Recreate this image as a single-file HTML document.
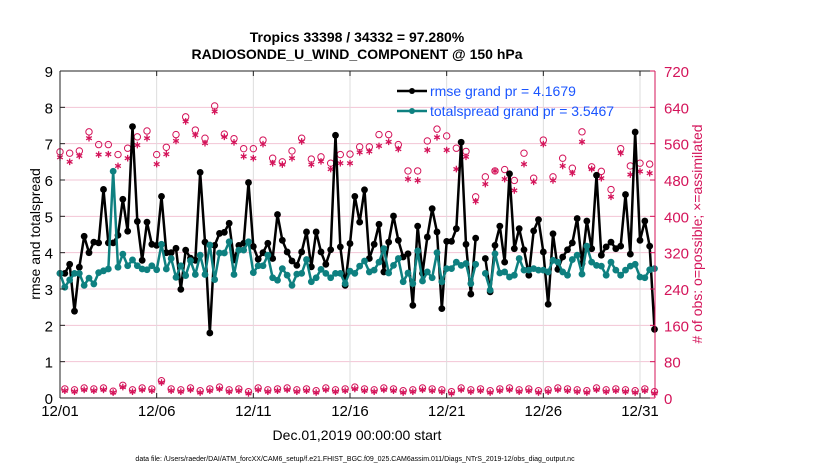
<!DOCTYPE html>
<html><head><meta charset="utf-8"><style>
body{margin:0;background:#fff;}
svg{display:block;font-family:"Liberation Sans",Arial,sans-serif;}
</style></head><body>
<svg id="chart" width="830" height="470" viewBox="0 0 830 470">
<text x="357" y="42" text-anchor="middle" font-size="14" font-weight="bold">Tropics 33398 / 34332 = 97.280%</text>
<text x="357" y="59" text-anchor="middle" font-size="14" font-weight="bold">RADIOSONDE_U_WIND_COMPONENT @ 150 hPa</text>
<g id="grid"></g>
<g id="obs"></g>
<g id="lines"></g>
<g id="axes"></g>
<text x="40" y="234" transform="rotate(-90 40 234)" text-anchor="middle" font-size="14">rmse and totalspread</text>
<text x="702" y="234" transform="rotate(-90 702 234)" text-anchor="middle" font-size="14" fill="#d4145a"># of obs: o=possible; ×=assimilated</text>
<text x="357" y="440" text-anchor="middle" font-size="14">Dec.01,2019 00:00:00 start</text>
<text x="355" y="461" text-anchor="middle" font-size="7">data file: /Users/raeder/DAI/ATM_forcXX/CAM6_setup/f.e21.FHIST_BGC.f09_025.CAM6assim.011/Diags_NTrS_2019-12/obs_diag_output.nc</text>
<g>
<line x1="397" y1="91" x2="427" y2="91" stroke="#000" stroke-width="2.5"/>
<circle cx="412" cy="91" r="3" fill="#000"/>
<text x="430" y="96" font-size="14" fill="#1a55ff">rmse grand pr = 4.1679</text>
<line x1="397" y1="111" x2="427" y2="111" stroke="#0e8080" stroke-width="2.5"/>
<circle cx="412" cy="111" r="3" fill="#0e8080"/>
<text x="430" y="116" font-size="14" fill="#1a55ff">totalspread grand pr = 3.5467</text>
</g>
</svg>
<script>
const xTickLabels=["12/01","12/06","12/11","12/16","12/21","12/26","12/31"];
const xTickDays=[0,5,10,15,20,25,30];
const yTicks=[0,1,2,3,4,5,6,7,8,9];
const y2Ticks=[0,80,160,240,320,400,480,560,640,720];
const stepDays=0.25;
const rmse=[3.43,3.43,3.68,2.39,3.6,4.45,4.0,4.29,4.27,5.74,4.27,4.27,4.48,5.47,4.59,7.47,4.86,3.79,4.84,4.23,4.2,5.55,4.0,4.0,4.12,2.99,4.07,3.85,3.79,6.21,4.29,1.79,4.2,4.53,4.56,4.81,3.8,4.2,4.26,5.93,4.17,3.82,4.0,4.26,
3.84,5.05,4.34,4.02,3.77,3.65,4.02,4.57,3.61,4.57,4.02,3.68,4.08,7.23,4.16,3.1,4.25,5.55,4.84,5.73,3.84,4.23,4.78,3.47,4.29,5.01,4.34,3.88,3.97,2.55,4.73,3.43,4.43,5.21,4.57,2.46,4.31,4.31,4.66,7.04,
4.23,2.86,4.4,null,3.84,2.92,4.2,4.73,3.74,6.17,4.11,4.66,4.08,3.38,4.6,4.91,4.02,2.58,4.52,3.54,3.88,4.08,4.27,4.94,3.7,4.87,4.11,6.13,3.93,4.16,4.29,4.11,4.18,5.6,3.96,7.32,4.34,4.87,4.18,1.89];
const spread=[3.43,3.05,3.25,3.43,3.43,3.1,3.3,3.14,3.45,3.5,3.55,6.24,3.6,3.96,3.64,3.8,3.64,3.55,3.53,3.64,3.53,4.23,3.55,3.84,3.32,3.64,3.37,3.78,3.4,3.93,3.4,4.21,3.26,3.99,3.99,4.3,3.4,4.07,4.07,4.3,3.45,3.64,3.64,3.93,
3.31,3.24,3.56,3.38,3.1,3.41,3.43,3.81,3.2,3.31,3.54,3.43,3.31,3.43,3.43,3.15,3.49,3.43,3.63,3.77,3.47,3.52,3.74,4.11,3.44,3.65,3.84,3.2,3.44,3.15,4.05,3.22,3.47,3.31,4.0,3.2,3.56,3.56,3.74,3.65,3.7,
3.15,3.68,null,3.43,2.97,3.97,3.44,3.47,3.33,3.38,3.84,3.52,3.52,3.56,3.52,3.52,3.47,3.79,3.74,3.47,3.38,3.81,3.93,3.41,4.18,3.74,3.65,3.63,3.38,3.74,3.52,3.38,3.52,3.63,3.68,3.33,3.31,3.53,3.56];
const possibleMain=[542,539,544,586,558,558,536,550,575,588,536,552,580,619,590,572,643,581,571,549,549,568,528,520,544,572,526,531,517,536,537,553,553,580,580,558,500,500,566,592,577,550,543,443,487,500,503,479,539,484,568,487,528,506,586,509,499,459,549,511,517,515];
const assimMain=[530,520,533,572,536,537,511,528,557,572,515,537,566,609,579,561,631,575,563,532,528,559,517,514,528,565,514,521,504,517,517,541,543,555,564,548,482,479,546,574,546,504,531,433,471,500,482,457,515,476,559,479,511,495,564,504,484,443,539,492,499,495];
const possibleOff=[20,18,22,20,22,15,28,18,22,20,38,20,18,22,16,20,24,18,20,14,22,18,20,22,18,20,16,22,18,20,24,20,18,22,20,16,18,22,20,18,14,22,18,20,16,20,22,18,20,16,18,22,20,18,16,22,18,20,18,16,20,14];
const assimOff=[16,14,18,16,18,12,24,14,18,16,34,16,14,18,12,16,20,14,16,10,18,14,16,18,14,16,12,18,14,16,20,16,14,18,16,12,14,18,16,14,10,18,14,16,12,16,18,14,16,12,14,18,16,14,12,18,14,16,14,12,16,10];

const L=60,R=655,T=71,B=398,NS="http://www.w3.org/2000/svg";
const xs=d=>L+d*(580/30);
const ys=v=>B-v*(B-T)/9;
const ys2=n=>B-n*(B-T)/720;
function mk(tag,attrs,parent){const e=document.createElementNS(NS,tag);for(const k in attrs)e.setAttribute(k,attrs[k]);parent.appendChild(e);return e;}
const grid=document.getElementById('grid'),axes=document.getElementById('axes'),obs=document.getElementById('obs'),lines=document.getElementById('lines');
mk('rect',{x:L,y:T,width:R-L,height:B-T,fill:'#fff'},grid);
y2Ticks.forEach(n=>{const g=mk('line',{x1:L,x2:R,y1:ys2(n),y2:ys2(n),stroke:'#f2c4d4','stroke-width':1},grid);

});
xTickDays.forEach(d=>{const g=mk('line',{x1:xs(d),x2:xs(d),y1:T,y2:B,stroke:'#ddd','stroke-width':1},grid);

});
mk('line',{x1:L,x2:R,y1:T,y2:T,stroke:'#222'},axes);
mk('line',{x1:L,x2:R,y1:B,y2:B,stroke:'#222'},axes);
mk('line',{x1:L,x2:L,y1:T,y2:B,stroke:'#222'},axes);
mk('line',{x1:R,x2:R,y1:T,y2:B,stroke:'#d4145a'},axes);
yTicks.forEach(v=>{mk('line',{x1:L,x2:L+5,y1:ys(v),y2:ys(v),stroke:'#222'},axes);
const t=mk('text',{x:L-7,y:ys(v)+6,'text-anchor':'end','font-size':15},axes);t.textContent=v;

});
y2Ticks.forEach(n=>{mk('line',{x1:R,x2:R-5,y1:ys2(n),y2:ys2(n),stroke:'#d4145a'},axes);
const t=mk('text',{x:R+9,y:ys2(n)+6,'font-size':15,fill:'#d4145a'},axes);t.textContent=n;

});
xTickDays.forEach((d,i)=>{mk('line',{x1:xs(d),x2:xs(d),y1:B,y2:B-5,stroke:'#222'},axes);mk('line',{x1:xs(d),x2:xs(d),y1:T,y2:T+5,stroke:'#222'},axes);
const t=mk('text',{x:xs(d),y:B+18,'text-anchor':'middle','font-size':15},axes);t.textContent=xTickLabels[i];

});
const pink='#d4145a';
function circ(x,y,parent){const c=mk('circle',{cx:x,cy:y,r:3.2,fill:'none',stroke:pink,'stroke-width':1},parent);

}
function star(x,y,parent){const r=3.3,a=r*0.866,b=r*0.5;
const s=mk('path',{d:`M${x},${y-r}V${y+r}M${x-a},${y-b}L${x+a},${y+b}M${x-a},${y+b}L${x+a},${y-b}`,stroke:pink,'stroke-width':1.3,fill:'none'},parent);

}
possibleMain.forEach((n,i)=>{const d=i*0.5;circ(xs(d),ys2(n),obs);star(xs(d),ys2(assimMain[i]),obs);});
possibleOff.forEach((n,i)=>{const d=i*0.5+0.25;circ(xs(d),ys2(n),obs);star(xs(d),ys2(assimOff[i]),obs);});
function series(arr,color,name){let segs=[],cur=[];arr.forEach((v,i)=>{if(v===null){if(cur.length)segs.push(cur);cur=[];}else cur.push([xs(i*stepDays),ys(v)]);});if(cur.length)segs.push(cur);
segs.forEach(s=>{const p=mk('polyline',{points:s.map(q=>q.join(',')).join(' '),fill:'none',stroke:color,'stroke-width':2.5,'stroke-linejoin':'round'},lines);

});
arr.forEach((v,i)=>{if(v===null)return;const c=mk('circle',{cx:xs(i*stepDays),cy:ys(v),r:3.4,fill:color},lines);

});}
series(rmse,'#000','rmse');
series(spread,'#0e8080','totalspread');
</script>
</body></html>
